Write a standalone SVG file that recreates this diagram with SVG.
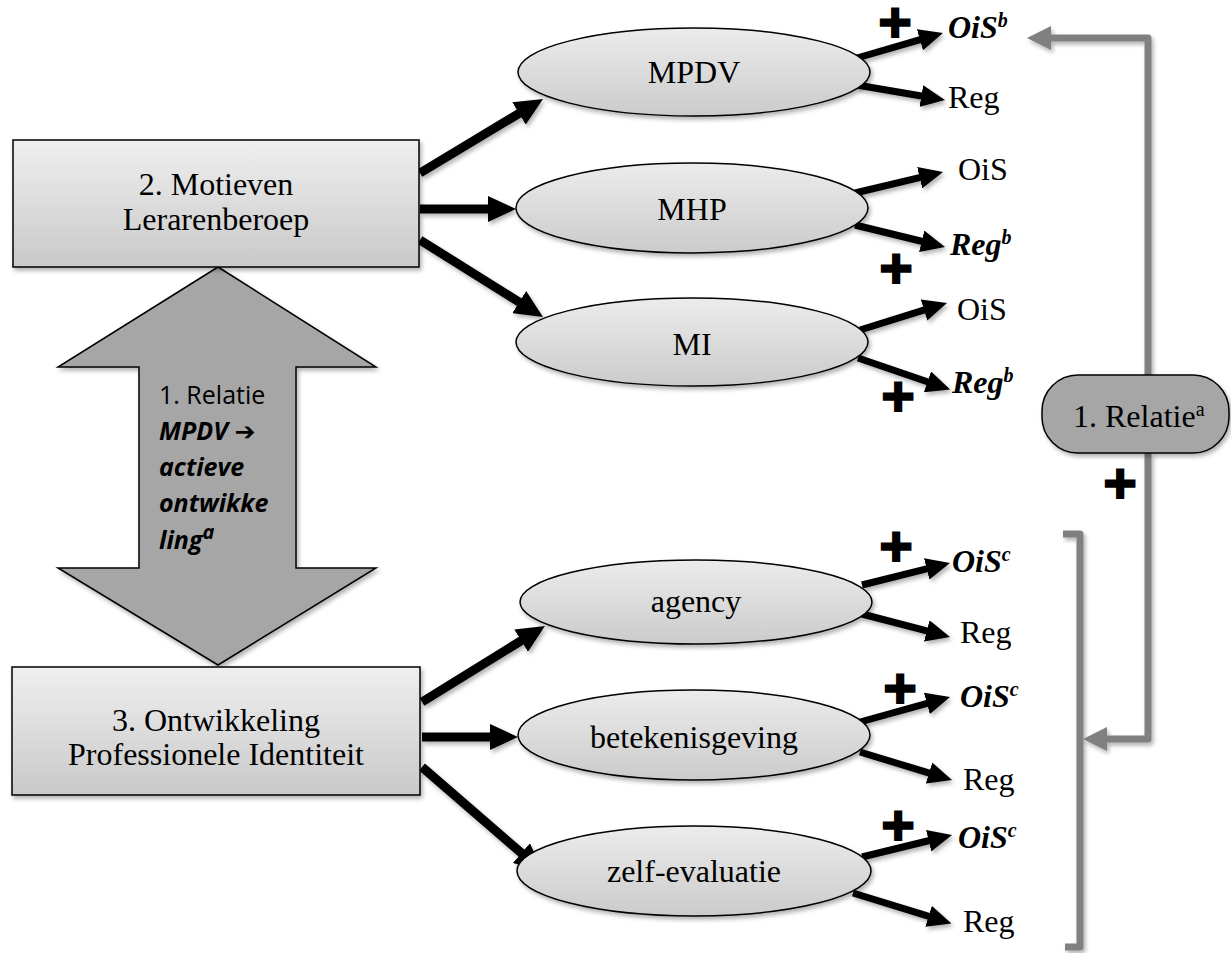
<svg xmlns="http://www.w3.org/2000/svg" width="1231" height="953" viewBox="0 0 1231 953">
<defs>
<linearGradient id="gBox" x1="0" y1="0" x2="0" y2="1">
<stop offset="0" stop-color="#efefef"/><stop offset="1" stop-color="#c9c9c9"/>
</linearGradient>
<linearGradient id="gEll" x1="0" y1="0" x2="0" y2="1">
<stop offset="0" stop-color="#ececec"/><stop offset="1" stop-color="#cbcbcb"/>
</linearGradient>
<filter id="sh" x="-10%" y="-10%" width="130%" height="140%">
<feDropShadow dx="2" dy="3" stdDeviation="2" flood-color="#000" flood-opacity="0.3"/>
</filter>
<marker id="mBig" markerUnits="userSpaceOnUse" markerWidth="28" markerHeight="26" refX="3" refY="13" orient="auto">
<path d="M0,0 L28,13 L0,26 Z" fill="#000"/>
</marker>
<marker id="mSm" markerUnits="userSpaceOnUse" markerWidth="24" markerHeight="22" refX="3" refY="11" orient="auto">
<path d="M0,0 L24,11 L0,22 Z" fill="#000"/>
</marker>
<marker id="mGray" markerUnits="userSpaceOnUse" markerWidth="24" markerHeight="24" refX="3" refY="12" orient="auto">
<path d="M0,0 L24,12 L0,24 Z" fill="#808080"/>
</marker>
</defs>
<style>
.box{fill:url(#gBox);stroke:#000;stroke-width:1.5;filter:url(#sh)}
.ell{fill:url(#gEll);stroke:#000;stroke-width:1.5;filter:url(#sh)}
.t{font-family:"Liberation Serif","Times New Roman",serif;font-size:32px;fill:#000}
.bi{font-family:"Liberation Serif","Times New Roman",serif;font-size:32px;font-weight:bold;font-style:italic;fill:#000}
.sup{font-size:20px}
.c{text-anchor:middle}
.cal{font-family:"Open Sans","Liberation Sans",sans-serif;font-size:25px;fill:#000}
.calbi{font-family:"Open Sans","Liberation Sans",sans-serif;font-size:25px;font-weight:bold;font-style:italic;fill:#000}
.plus{font-family:"DejaVu Sans",sans-serif;font-size:42px;text-anchor:middle;dominant-baseline:central;fill:#000}
.big{stroke:#000;stroke-width:9;fill:none;marker-end:url(#mBig)}
.sm{stroke:#000;stroke-width:7;fill:none;marker-end:url(#mSm)}
.gray{stroke:#808080;stroke-width:7;fill:none;stroke-linejoin:round}
</style>

<g id="connectors" filter="url(#sh)">
<line class="big" x1="420" y1="173" x2="521.6" y2="111.9"/>
<line class="big" x1="420" y1="209" x2="491" y2="209"/>
<line class="big" x1="420" y1="240" x2="521.8" y2="303.7"/>
<line class="big" x1="422" y1="702" x2="523.7" y2="639.1"/>
<line class="big" x1="422" y1="737" x2="493" y2="737"/>
<line class="big" x1="422" y1="767" x2="523.7" y2="855"/>

<line class="sm" x1="857" y1="58" x2="922.8" y2="38.9"/>
<line class="sm" x1="857" y1="85" x2="924.3" y2="96.5"/>
<line class="sm" x1="855" y1="193" x2="922.6" y2="176.9"/>
<line class="sm" x1="855" y1="225" x2="924.6" y2="242"/>
<line class="sm" x1="860" y1="330" x2="926.9" y2="309.2"/>
<line class="sm" x1="858" y1="358" x2="930.3" y2="382.8"/>
<line class="sm" x1="862" y1="585" x2="929.6" y2="568.1"/>
<line class="sm" x1="862" y1="614" x2="929.7" y2="631.7"/>
<line class="sm" x1="860" y1="722" x2="929.8" y2="702.6"/>
<line class="sm" x1="860" y1="752" x2="931.9" y2="773.9"/>
<line class="sm" x1="862" y1="857" x2="931.6" y2="840"/>
<line class="sm" x1="853" y1="893" x2="931.4" y2="917.2"/>

<path class="gray" d="M1148,375 V38 H1048" marker-end="url(#mGray)"/>
<path class="gray" d="M1148,453 V739 H1104" marker-end="url(#mGray)"/>
<path class="gray" d="M1063,534 H1080 V947 H1065" stroke-width="6"/>
</g>

<g id="relatie-arrow">
<path d="M218,267 L376,367 L296,367 L296,568 L376,568 L218,665 L58,568 L139,568 L139,367 L58,367 Z" fill="#a6a6a6" stroke="#000" stroke-width="1.5" filter="url(#sh)"/>
<text class="cal" x="159" y="404">1. Relatie</text>
<text class="calbi" x="159" y="440">MPDV <tspan font-family="DejaVu Sans" font-style="normal">➔</tspan></text>
<text class="calbi" x="159" y="476">actieve</text>
<text class="calbi" x="159" y="512">ontwikke</text>
<text class="calbi" x="159" y="549">ling<tspan class="sup" dy="-10" font-size="16px">a</tspan></text>
</g>

<g id="motieven">
<rect class="box" x="13" y="140" width="406" height="127"/>
<text class="t c" x="216" y="195">2. Motieven</text>
<text class="t c" x="216" y="230">Lerarenberoep</text>
</g>

<g id="ontwikkeling">
<rect class="box" x="12" y="667" width="408" height="128"/>
<text class="t c" x="216" y="731">3. Ontwikkeling</text>
<text class="t c" x="216" y="765">Professionele Identiteit</text>
</g>

<g id="mpdv"><ellipse class="ell" cx="694" cy="72" rx="176" ry="44"/><text class="t c" x="694" y="83">MPDV</text></g>
<g id="mhp"><ellipse class="ell" cx="692" cy="208" rx="176" ry="45"/><text class="t c" x="692" y="220">MHP</text></g>
<g id="mi"><ellipse class="ell" cx="692" cy="342" rx="176" ry="44"/><text class="t c" x="692" y="355">MI</text></g>
<g id="agency"><ellipse class="ell" cx="696" cy="602" rx="176" ry="42"/><text class="t c" x="696" y="612">agency</text></g>
<g id="betekenisgeving"><ellipse class="ell" cx="694" cy="735" rx="176" ry="45"/><text class="t c" x="694" y="748">betekenisgeving</text></g>
<g id="zelf-evaluatie"><ellipse class="ell" cx="694" cy="871" rx="177" ry="45"/><text class="t c" x="694" y="882">zelf-evaluatie</text></g>

<g id="relatie-box">
<rect x="1042" y="375" width="187" height="78" rx="36" ry="36" fill="#a6a6a6" stroke="#000" stroke-width="1.5" filter="url(#sh)"/>
<text class="t" x="1073" y="427" font-size="30px">1. Relatie<tspan class="sup" dy="-11" font-size="19px">a</tspan></text>
</g>

<g id="outcomes">
<text class="bi" x="948" y="38">OiS<tspan class="sup" dy="-11">b</tspan></text>
<text class="t" x="948" y="108">Reg</text>
<text class="t" x="958" y="180">OiS</text>
<text class="bi" x="950" y="255">Reg<tspan class="sup" dy="-11">b</tspan></text>
<text class="t" x="957" y="320">OiS</text>
<text class="bi" x="952" y="393">Reg<tspan class="sup" dy="-11">b</tspan></text>
<text class="bi" x="952" y="572">OiS<tspan class="sup" dy="-11">c</tspan></text>
<text class="t" x="960" y="643">Reg</text>
<text class="bi" x="960" y="707">OiS<tspan class="sup" dy="-11">c</tspan></text>
<text class="t" x="963" y="790">Reg</text>
<text class="bi" x="958" y="848">OiS<tspan class="sup" dy="-11">c</tspan></text>
<text class="t" x="963" y="932">Reg</text>
</g>

<g id="plus-signs">
<text class="plus" x="895" y="23">✚</text>
<text class="plus" x="896" y="269">✚</text>
<text class="plus" x="898" y="397">✚</text>
<text class="plus" x="1120" y="484">✚</text>
<text class="plus" x="896" y="547">✚</text>
<text class="plus" x="900" y="689">✚</text>
<text class="plus" x="898" y="826">✚</text>
</g>
</svg>
